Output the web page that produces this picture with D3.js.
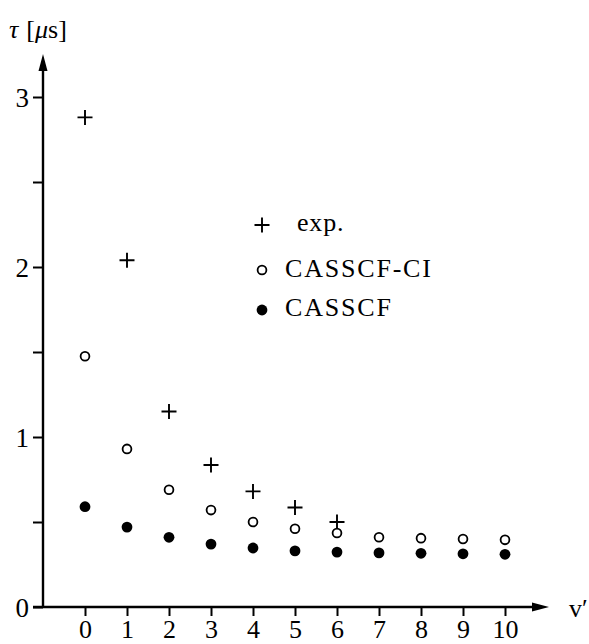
<!DOCTYPE html>
<html>
<head>
<meta charset="utf-8">
<script src="https://cdn.jsdelivr.net/npm/d3@7"></script>
<style>
  body { margin: 0; background: #fff; }
  svg text { font-family: 'Liberation Serif', 'Times New Roman', serif; fill: #000; }
</style>
</head>
<body>
<svg id="chart" width="589" height="644"></svg>
<script>
// vibrational level v'
const levels = [0, 1, 2, 3, 4, 5, 6, 7, 8, 9, 10];
// lifetimes tau in microseconds
const expValues = [2.88, 2.04, 1.15, 0.835, 0.68, 0.585, 0.50];
const casscfCiValues = [1.475, 0.93, 0.69, 0.57, 0.50, 0.46, 0.435, 0.41, 0.405, 0.40, 0.395];
const casscfValues = [0.59, 0.47, 0.41, 0.37, 0.347, 0.33, 0.323, 0.318, 0.316, 0.313, 0.31];
const yTicks = [0, 0.5, 1, 1.5, 2, 2.5, 3];
const legendLabels = ["exp.", "CASSCF-CI", "CASSCF"];

const serif = "'Liberation Serif', serif";
const svg = d3.select("#chart");

const x = d3.scaleLinear().domain([0, 10]).range([85, 505]);
const y = d3.scaleLinear().domain([0, 3]).range([607, 97]);
const axisX = 43;

// y axis ticks (outward), labels only on integers
const gY = svg.append("g")
    .attr("transform", "translate(" + axisX + ",0)")
    .call(d3.axisLeft(y).tickValues(yTicks).tickSize(10).tickSizeOuter(0)
        .tickFormat(d => Number.isInteger(d) ? d : ""));
gY.attr("font-family", serif);
gY.select(".domain").remove();
gY.selectAll(".tick line").attr("stroke", "#000").attr("stroke-width", 2);
gY.selectAll(".tick text")
    .attr("x", -14)
    .attr("dy", "0.34em")
    .attr("font-family", serif)
    .style("font-size", "27px");

// x axis ticks downward
const gX = svg.append("g")
    .attr("transform", "translate(0," + y(0) + ")")
    .call(d3.axisBottom(x).tickValues(levels).tickSize(9).tickSizeOuter(0).tickFormat(d3.format("d")));
gX.attr("font-family", serif);
gX.select(".domain").remove();
gX.selectAll(".tick line").attr("stroke", "#000").attr("stroke-width", 2);
gX.selectAll(".tick text")
    .attr("y", 31)
    .attr("dy", 0)
    .attr("font-family", serif)
    .style("font-size", "26px");

// axis lines with arrow heads
svg.append("line").attr("x1", axisX).attr("x2", axisX).attr("y1", y(0)).attr("y2", 66)
    .attr("stroke", "#000").attr("stroke-width", 2.4);
svg.append("path").attr("d", "M" + axisX + ",54 L" + (axisX - 4.5) + ",71 L" + (axisX + 4.5) + ",71 Z")
    .attr("fill", "#000");
svg.append("line").attr("x1", 33).attr("x2", 537).attr("y1", y(0)).attr("y2", y(0))
    .attr("stroke", "#000").attr("stroke-width", 2.4);
svg.append("path").attr("d", "M549," + y(0) + " L532," + (y(0) - 4.5) + " L532," + (y(0) + 4.5) + " Z")
    .attr("fill", "#000");

// axis titles
const yTitle = svg.append("text").attr("x", 9).attr("y", 38)
    .attr("font-family", serif).style("font-size", "26px");
yTitle.append("tspan").style("font-style", "italic").text("τ");
yTitle.append("tspan").attr("dx", 8).text("[");
yTitle.append("tspan").style("font-style", "italic").text("μ");
yTitle.append("tspan").text("s]");

svg.append("text").attr("x", 569).attr("y", 617)
    .attr("font-family", serif).style("font-size", "26px").text("v′");

// markers
function plus(g, cx, cy, s) {
    g.append("path")
        .attr("d", "M" + (cx - s) + "," + cy + " H" + (cx + s) + " M" + cx + "," + (cy - s) + " V" + (cy + s))
        .attr("stroke", "#000").attr("stroke-width", 1.9).attr("fill", "none");
}

const marks = svg.append("g");
expValues.forEach(function(d, i) { plus(marks, x(levels[i]), y(d), 7.5); });

marks.selectAll("circle.ci")
    .data(casscfCiValues)
    .enter().append("circle")
    .attr("class", "ci")
    .attr("cx", (d, i) => x(levels[i]))
    .attr("cy", d => y(d))
    .attr("r", 4.4)
    .attr("fill", "#fff")
    .attr("stroke", "#000")
    .attr("stroke-width", 1.8);

marks.selectAll("circle.cas")
    .data(casscfValues)
    .enter().append("circle")
    .attr("class", "cas")
    .attr("cx", (d, i) => x(levels[i]))
    .attr("cy", d => y(d))
    .attr("r", 5.4)
    .attr("fill", "#000");

// legend
const legend = svg.append("g").attr("font-family", serif);
plus(legend, 262, 225, 7.5);
legend.append("circle").attr("cx", 262).attr("cy", 270).attr("r", 4.4)
    .attr("fill", "#fff").attr("stroke", "#000").attr("stroke-width", 1.8);
legend.append("circle").attr("cx", 262).attr("cy", 310).attr("r", 5.4).attr("fill", "#000");

legend.append("text").attr("x", 297).attr("y", 231).style("font-size", "26px")
    .style("letter-spacing", "0.8px").text(legendLabels[0]);
legend.append("text").attr("x", 285).attr("y", 277).style("font-size", "26px")
    .style("letter-spacing", "1.8px").text(legendLabels[1]);
legend.append("text").attr("x", 285).attr("y", 316).style("font-size", "26px")
    .style("letter-spacing", "1.8px").text(legendLabels[2]);
</script>
</body>
</html>
